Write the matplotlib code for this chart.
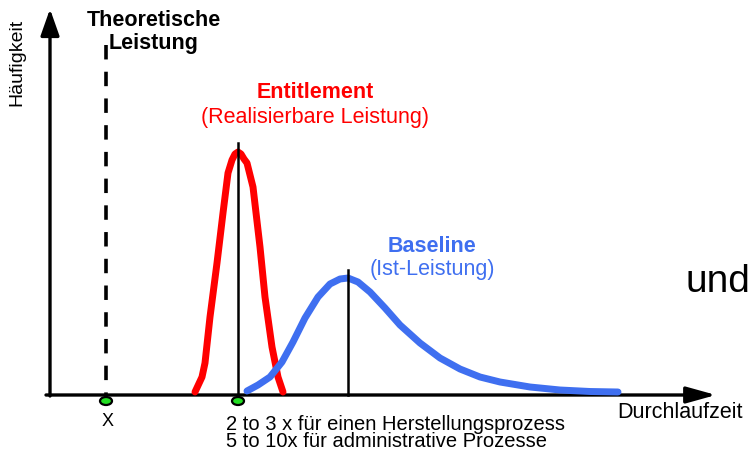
import matplotlib.pyplot as plt
from matplotlib.patches import Ellipse

plt.rcParams['font.family'] = ['Liberation Sans', 'DejaVu Sans']

# curve points (x = lead time, y = frequency)
red_x = [147, 154, 157, 162, 169, 175, 180, 184, 187, 190, 193, 196, 199, 205, 212, 217, 224, 230, 235]
red_y = [3, 18, 32, 78, 132, 182, 222, 235, 241, 243, 241, 236, 232, 208, 148, 98, 48, 18, 3]

blue_x = [199, 210, 222, 234, 245, 257, 270, 282, 292, 300, 310, 322, 337, 352,
          372, 392, 412, 432, 452, 482, 512, 542, 570]
blue_y = [4, 10, 18, 33, 53, 77, 98, 111, 116, 117, 113, 103, 87, 70,
          52, 37, 26, 18, 13, 8, 5, 3.5, 3]

theory_x = 58
entitlement_x, entitlement_top = 190, 252
baseline_x, baseline_top = 300, 125
dashed_top = 350
marker_x = [theory_x, entitlement_x]

red = '#ff0000'
blue = '#3f6ff0'

fig = plt.figure(figsize=(7.49, 4.5), dpi=100)
ax = fig.add_axes([0, 0, 1, 1])
ax.set_xlim(-48, 701)
ax.set_ylim(-55, 395)
ax.axis('off')

# axes with arrows
ax.annotate('', xy=(668, 0), xytext=(-2, 0),
            arrowprops=dict(arrowstyle='-|>,head_length=0.9,head_width=0.25', lw=2.4,
                            color='black', mutation_scale=20, shrinkA=0, shrinkB=0))
ax.annotate('', xy=(2, 386), xytext=(2, -1),
            arrowprops=dict(arrowstyle='-|>,head_length=0.85,head_width=0.3', lw=2.4,
                            color='black', mutation_scale=19, shrinkA=0, shrinkB=0))

# theoretical limit
ax.plot([theory_x, theory_x], [dashed_top, 0], color='black', lw=2.6,
        dashes=(4, 3.4))

# distributions
ax.plot(red_x, red_y, color=red, lw=5, solid_capstyle='round', solid_joinstyle='round', zorder=3)
ax.plot(blue_x, blue_y, color=blue, lw=5, solid_capstyle='round', solid_joinstyle='round', zorder=3)

ax.plot([entitlement_x, entitlement_x], [0, entitlement_top], color='black', lw=1.8, zorder=4)
ax.plot([baseline_x, baseline_x], [0, baseline_top], color='black', lw=1.8, zorder=4)

for mx in marker_x:
    ax.add_patch(Ellipse((mx, -6), 12, 8, facecolor='#22dd22', edgecolor='black', lw=1.6, zorder=5))

# labels
ax.text(106, 363, 'Theoretische\nLeistung', ha='center', va='center', fontsize=15.5,
        fontweight='bold', linespacing=1.1)
ax.text(267, 303, 'Entitlement', ha='center', va='center', fontsize=15.5,
        fontweight='bold', color=red)
ax.text(267, 278, '(Realisierbare Leistung)', ha='center', va='center', fontsize=15.5,
        color=red)
ax.text(384, 149, 'Baseline', ha='center', va='center', fontsize=15.5,
        fontweight='bold', color=blue)
ax.text(384, 125, '(Ist-Leistung)', ha='center', va='center', fontsize=15.5,
        color=blue)
ax.text(637, 113, 'und', ha='left', va='center', fontsize=28)
ax.text(569, -18, 'Durchlaufzeit', ha='left', va='center', fontsize=15.5)
ax.text(-31, 333, 'Häufigkeit', ha='center', va='center', fontsize=14, rotation=90)
ax.text(theory_x + 2, -27, 'X', ha='center', va='center', fontsize=13)
ax.text(178, -29, '2 to 3 x für einen Herstellungsprozess', ha='left', va='center', fontsize=14.5)
ax.text(178, -46.5, '5 to 10x für administrative Prozesse', ha='left', va='center', fontsize=14.5)

fig.savefig('out.png', dpi=100)
